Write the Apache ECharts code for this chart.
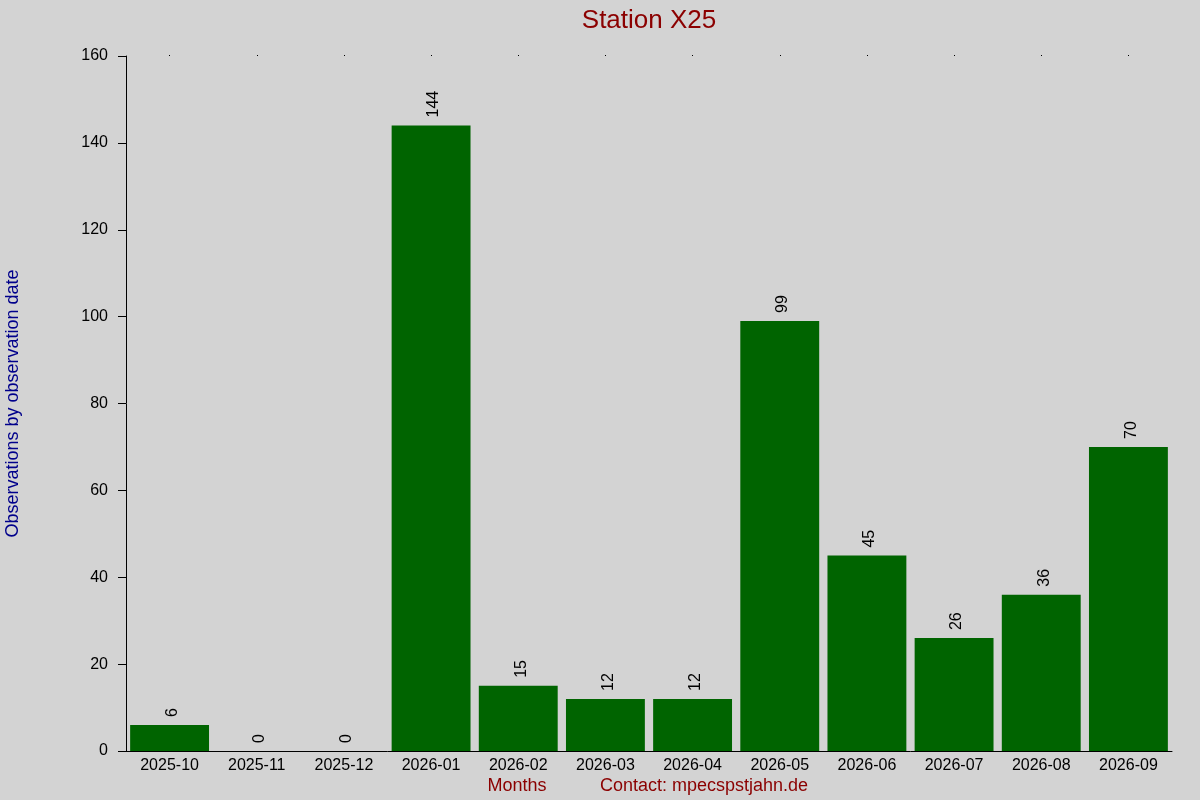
<!DOCTYPE html>
<html><head><meta charset="utf-8">
<script src="https://cdn.jsdelivr.net/npm/echarts@6/dist/echarts.min.js"></script>
<style>html,body{margin:0;padding:0;background:#d3d3d3}#c{width:1200px;height:800px}</style>
</head><body><div id="c"></div>
<script>
const categories = ['2025-10','2025-11','2025-12','2026-01','2026-02','2026-03','2026-04','2026-05','2026-06','2026-07','2026-08','2026-09'];
const observations = [6,0,0,144,15,12,12,99,45,26,36,70];
const yTicks = {min:0, max:160, interval:20};
const font = 'Liberation Sans, Arial, sans-serif';
const chart = echarts.init(document.getElementById('c'), null, {renderer:'canvas'});
chart.setOption({
  backgroundColor:'#d3d3d3',
  animation:false,
  title:{text:'Station X25', left:644, textAlign:'center', top:3, textStyle:{color:'#8b0000', fontSize:26, fontWeight:'normal', fontFamily:font}},
  grid:{left:126, right:28, top:56, bottom:49, containLabel:false, outerBoundsMode:'none'},
  xAxis:[{
    type:'category', data:categories,
    axisLine:{lineStyle:{color:'#000', width:1}},
    axisTick:{show:false},
    axisLabel:{color:'#000', fontSize:16, fontFamily:font, margin:7}
  },{
    type:'category', data:categories, position:'top',
    axisLine:{show:false},
    axisTick:{show:true, length:1, alignWithLabel:true, lineStyle:{color:'#000', width:1}},
    axisLabel:{show:false}
  }],
  yAxis:{
    type:'value', min:yTicks.min, max:yTicks.max, interval:yTicks.interval,
    name:'Observations by observation date', nameLocation:'middle', nameGap:104, nameRotate:90,
    nameTextStyle:{color:'#00008b', fontSize:18, fontFamily:font},
    axisLine:{show:true, lineStyle:{color:'#000', width:1}},
    axisTick:{show:true, length:8, lineStyle:{color:'#000'}},
    axisLabel:{color:'#000', fontSize:16, fontFamily:font, margin:18},
    splitLine:{show:false}
  },
  series:[{
    type:'bar', data:observations, barCategoryGap:'9.5%',
    itemStyle:{color:'#006400'},
    label:{show:true, position:'top', rotate:90, align:'left', verticalAlign:'middle', distance:8, offset:[0,3],
      color:'#000', fontSize:16, fontFamily:font}
  }],
  graphic:[
    {type:'text', x:517, y:786, style:{text:'Months', fill:'#8b0000', fontSize:18, fontFamily:font, align:'center', verticalAlign:'middle'}},
    {type:'text', x:704, y:786, style:{text:'Contact: mpecspstjahn.de', fill:'#8b0000', fontSize:18, fontFamily:font, align:'center', verticalAlign:'middle'}}
  ]
});
</script></body></html>
